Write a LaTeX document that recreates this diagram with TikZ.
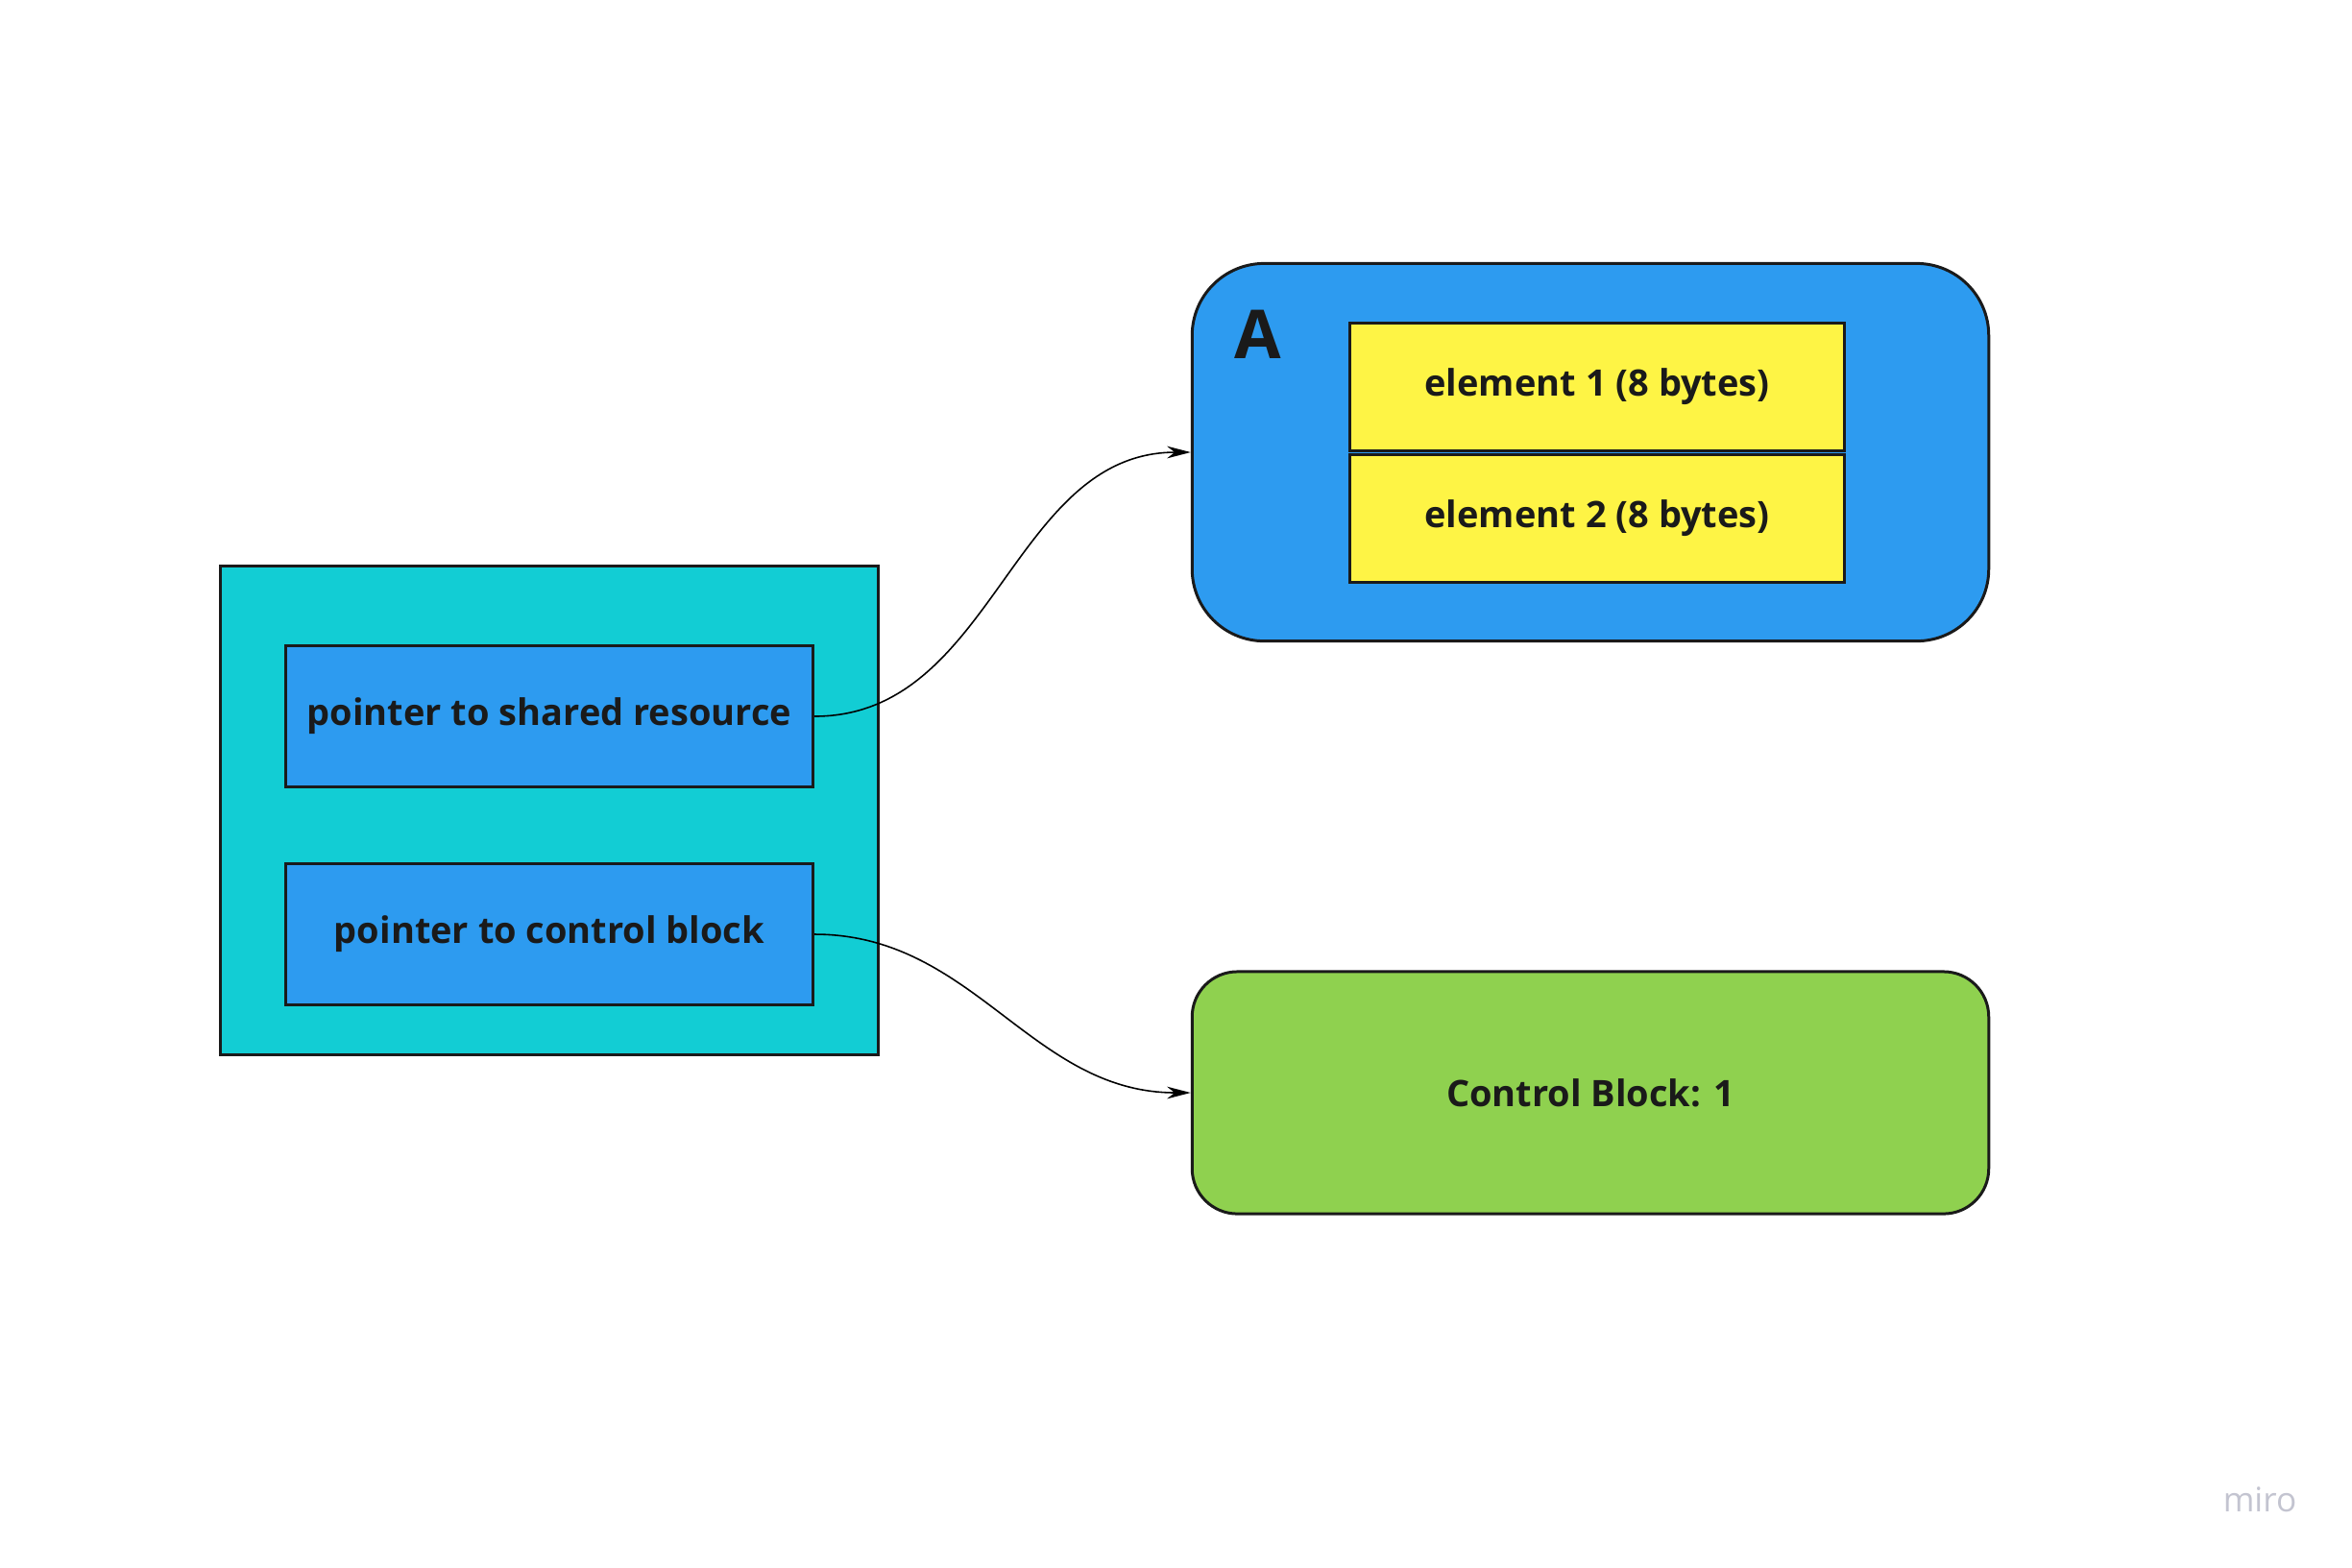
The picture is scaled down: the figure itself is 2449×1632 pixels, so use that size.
\documentclass[tikz,border=0pt]{standalone}
\usepackage{fontspec}
\setmainfont{Open Sans}
\usetikzlibrary{arrows.meta}
\definecolor{mirocyan}{HTML}{12CDD4}
\definecolor{miroblue}{HTML}{2D9BF0}
\definecolor{miroyellow}{HTML}{FEF445}
\definecolor{mirogreen}{HTML}{8FD14F}
\definecolor{edge}{HTML}{1A1A1A}
\definecolor{mirogray}{HTML}{C3C4D0}
\begin{document}
\begin{tikzpicture}[x=0.01cm,y=-0.01cm,
  box/.style={draw=edge, line width=0.85pt, rectangle, text=edge,
    font=\bfseries\fontsize{10.8}{13}\selectfont},
  ptr/.style={-{Stealth[length=7pt,width=3.6pt]}, line width=0.45pt}]
\useasboundingbox (0,0) rectangle (2449,1632);
% left: the pointer pair
\node[box, fill=mirocyan, minimum width=6.85cm, minimum height=5.08cm] (holder) at (572,844) {};
\node[box, fill=miroblue, minimum width=5.49cm, minimum height=1.47cm] (ptrres) at (572,746) {pointer to shared resource};
\node[box, fill=miroblue, minimum width=5.49cm, minimum height=1.47cm] (ptrctl) at (572,973) {pointer to control block};
% right: the resource and its control block
\node[box, fill=miroblue, rounded corners=0.75cm, minimum width=8.29cm, minimum height=3.93cm] (res) at (1656,471) {};
\node[text=edge, font=\bfseries\fontsize{20}{24}\selectfont] (resname) at (1310,348) {A};
\node[box, fill=miroyellow, minimum width=5.14cm, minimum height=1.33cm] (elem1) at (1663,403) {element 1 (8 bytes)};
\node[box, fill=miroyellow, minimum width=5.14cm, minimum height=1.33cm] (elem2) at (1663,540) {element 2 (8 bytes)};
\node[box, fill=mirogreen, rounded corners=0.47cm, minimum width=8.29cm, minimum height=2.52cm] (ctl) at (1656,1138) {Control Block: 1};
\node[text=mirogray, font=\fontsize{10}{12}\selectfont] (logo) at (2353,1562) {miro};
\draw[ptr] (ptrres.east) to[out=0,in=180] (res.west);
\draw[ptr] (ptrctl.east) to[out=0,in=180] (ctl.west);
\end{tikzpicture}
\end{document}
